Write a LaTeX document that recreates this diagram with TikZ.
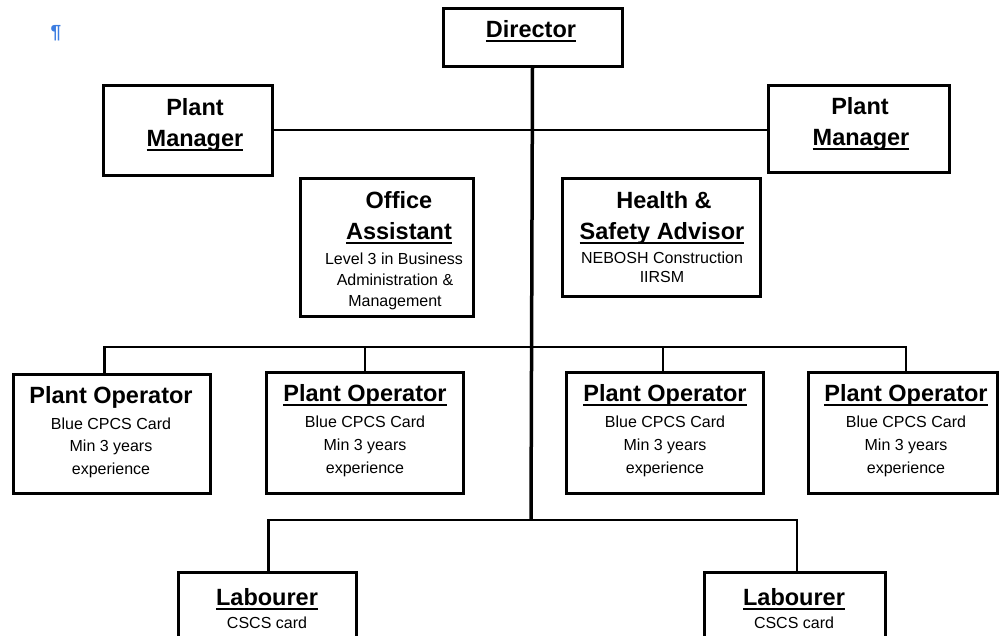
\documentclass[tikz,border=0pt]{standalone}
\usepackage{fontspec}
\setmainfont{Liberation Sans}
\newsavebox{\ulsave}
\newcommand{\ulword}[1]{\sbox{\ulsave}{#1}\rlap{\rule[-5pt]{\wd\ulsave}{1.8pt}}\usebox{\ulsave}}
\definecolor{markblue}{RGB}{60,125,225}
\tikzset{
  box/.style={draw=black, line width=3pt, fill=white, inner sep=0pt, outer sep=0pt},
  ttl/.style={font=\fontsize{23.5}{26}\selectfont\bfseries, anchor=base, inner sep=0pt},
  body/.style={font=\fontsize{16}{18}\selectfont, anchor=base, inner sep=0pt},
  trunk/.style={draw=black, line width=3.5pt},
  conn/.style={draw=black, line width=2pt},
  thickconn/.style={draw=black, line width=3pt},
}
\begin{document}
\begin{tikzpicture}[x=1pt, y=-1pt]
\useasboundingbox (0,0) rectangle (1003,635);
\fill[white] (0,0) rectangle (1003,635);
\clip (0,0) rectangle (1003,635);

% junction coordinates
\coordinate (bus1) at (531,347);
\coordinate (bus2) at (531,520);

\node[box, minimum width=179pt, minimum height=58pt] (dir) at (532.5,37) {};
\draw[trunk] (dir.south) -- (bus2);

\node[box, minimum width=169pt, minimum height=90pt] (pml) at (187.5,130) {};
\node[box, minimum width=181pt, minimum height=87pt] (pmr) at (858.5,128.5) {};
\draw[conn] (pml.east) -- (pml.east -| pmr.west);

\node[box, minimum width=173pt, minimum height=138pt] (oa) at (386.5,247) {};
\node[box, minimum width=198pt, minimum height=118pt] (hs) at (661,237) {};

\node[box, minimum width=197pt, minimum height=119pt] (po1) at (111.5,433.5) {};
\node[box, minimum width=197pt, minimum height=121pt] (po2) at (364.5,432.5) {};
\node[box, minimum width=197pt, minimum height=121pt] (po3) at (664.5,432.5) {};
\node[box, minimum width=189pt, minimum height=121pt] (po4) at (902.5,432.5) {};

\draw[conn] ([xshift=-7.5pt]po1.north) |- (bus1) -| ([xshift=3.5pt]po4.north);
\draw[thickconn] ([xshift=-7.5pt]po1.north) -- ([xshift=-7.5pt]po1.north |- bus1);
\draw[conn] (po2.north) -- (po2.north |- bus1);
\draw[conn] ([xshift=-1.5pt]po3.north) -- ([xshift=-1.5pt]po3.north |- bus1);

\node[box, minimum width=178pt, minimum height=80pt] (lab1) at (267,612) {};
\node[box, minimum width=181pt, minimum height=80pt] (lab2) at (794.5,612) {};
\draw[conn] ([xshift=1pt]lab1.north) |- (bus2) -| ([xshift=2.5pt]lab2.north);
\draw[thickconn] ([xshift=1pt]lab1.north) -- ([xshift=1pt]lab1.north |- bus2);

% formatting mark
\node[text=markblue, font=\fontsize{19}{19}\selectfont\bfseries, inner sep=0pt] (para) at (56,33) {¶};

% texts
\node[ttl] (tdir) at (531,37) {\ulword{Director}};

\node[ttl] (tpml1) at (195,115) {Plant};
\node[ttl] (tpml2) at (195,146) {\ulword{Manager}};
\node[ttl] (tpmr1) at (860,114) {Plant};
\node[ttl] (tpmr2) at (861,145) {\ulword{Manager}};

\node[ttl] (toa1) at (399,208) {Office};
\node[ttl] (toa2) at (399,239) {\ulword{Assistant}};
\node[body] (toa3) at (394,264) {Level 3 in Business};
\node[body] (toa4) at (395,285) {Administration \&};
\node[body] (toa5) at (395,306) {Management};

\node[ttl] (ths1) at (664,208) {Health \&};
\node[ttl] (ths2) at (662,239) {\ulword{Safety Advisor}};
\node[body] (ths3) at (662,263) {NEBOSH Construction};
\node[body] (ths4) at (662,282) {IIRSM};

\node[ttl] (tpo1a) at (111,403) {Plant Operator};
\node[body] (tpo1b) at (111,429) {Blue CPCS Card};
\node[body] (tpo1c) at (111,451) {Min 3 years};
\node[body] (tpo1d) at (111,474) {experience};

\node[ttl] (tpo2a) at (365,401) {\ulword{Plant Operator}};
\node[body] (tpo2b) at (365,427) {Blue CPCS Card};
\node[body] (tpo2c) at (365,450) {Min 3 years};
\node[body] (tpo2d) at (365,473) {experience};

\node[ttl] (tpo3a) at (665,401) {\ulword{Plant Operator}};
\node[body] (tpo3b) at (665,427) {Blue CPCS Card};
\node[body] (tpo3c) at (665,450) {Min 3 years};
\node[body] (tpo3d) at (665,473) {experience};

\node[ttl] (tpo4a) at (906,401) {\ulword{Plant Operator}};
\node[body] (tpo4b) at (906,427) {Blue CPCS Card};
\node[body] (tpo4c) at (906,450) {Min 3 years};
\node[body] (tpo4d) at (906,473) {experience};

\node[ttl] (tlab1a) at (267,605) {\ulword{Labourer}};
\node[body] (tlab1b) at (267,628) {CSCS card};
\node[ttl] (tlab2a) at (794,605) {\ulword{Labourer}};
\node[body] (tlab2b) at (794,628) {CSCS card};
\end{tikzpicture}
\end{document}
